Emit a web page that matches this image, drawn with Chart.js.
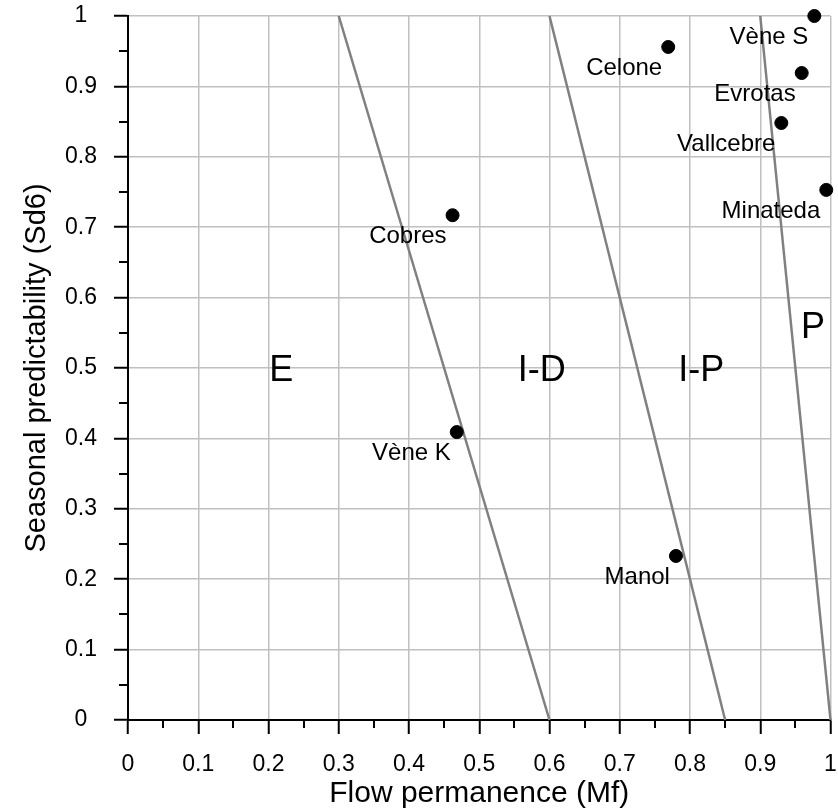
<!DOCTYPE html>
<html>
<head>
<meta charset="utf-8">
<script src="https://cdn.jsdelivr.net/npm/chart.js@4"></script>
<style>
html,body{margin:0;padding:0;background:#fff;}
#wrap{width:838px;height:812px;}
</style>
</head>
<body>
<div id="wrap"><canvas id="c" width="838" height="812"></canvas></div>
<script>
// ---- data ----
const sites = ["Vène S", "Celone", "Evrotas", "Vallcebre", "Minateda", "Cobres", "Vène K", "Manol"];
const flowPermanence = [0.977, 0.769, 0.959, 0.930, 0.994, 0.462, 0.468, 0.780];
const seasonalPredictability = [1.0, 0.956, 0.919, 0.848, 0.753, 0.717, 0.409, 0.233];

const boundaryTopX = [0.3, 0.6, 0.9];     // at Sd6 = 1
const boundaryBottomX = [0.6, 0.85, 1.0]; // at Sd6 = 0

const regionNames = ["E", "I-D", "I-P", "P"];
const regionX = [0.218, 0.589, 0.816, 0.975];
const regionY = [0.5, 0.5, 0.5, 0.561];

const tickValues = [0, 0.1, 0.2, 0.3, 0.4, 0.5, 0.6, 0.7, 0.8, 0.9, 1];
const tickLabels = ["0", "0.1", "0.2", "0.3", "0.4", "0.5", "0.6", "0.7", "0.8", "0.9", "1"];
const minorTicks = [0.05, 0.15, 0.25, 0.35, 0.45, 0.55, 0.65, 0.75, 0.85, 0.95];

const FONT = "'Liberation Sans', Arial, sans-serif";

const boundaryDatasets = boundaryTopX.map((tx, i) => ({
  type: 'line',
  data: [{x: tx, y: 1}, {x: boundaryBottomX[i], y: 0}],
  borderColor: '#808080',
  borderWidth: 2.5,
  pointRadius: 0,
  fill: false,
  clip: false,
  order: 2
}));

const pointsDataset = {
  type: 'scatter',
  data: flowPermanence.map((x, i) => ({x: x, y: seasonalPredictability[i]})),
  backgroundColor: '#000',
  borderColor: '#000',
  pointRadius: 6.5,
  pointHoverRadius: 6.5,
  clip: false,
  order: 1
};

function labelFor(v) {
  const idx = tickValues.findIndex(t => Math.abs(t - v) < 1e-6);
  return idx >= 0 ? tickLabels[idx] : '';
}

const annotatePlugin = {
  id: 'annotate',
  afterDraw(chart) {
    const ctx = chart.ctx;
    const xs = chart.scales.x, ys = chart.scales.y;
    ctx.save();
    // minor ticks
    ctx.strokeStyle = '#000';
    ctx.lineWidth = 2;
    ctx.beginPath();
    minorTicks.forEach(v => {
      const px = Math.round(xs.getPixelForValue(v));
      ctx.moveTo(px, ys.bottom);
      ctx.lineTo(px, ys.bottom + 8);
      const py = Math.round(ys.getPixelForValue(v));
      ctx.moveTo(xs.left, py);
      ctx.lineTo(xs.left - 9, py);
    });
    ctx.stroke();
    // point labels
    ctx.fillStyle = '#000';
    ctx.font = '24px ' + FONT;
    ctx.textAlign = 'right';
    ctx.textBaseline = 'alphabetic';
    sites.forEach((s, i) => {
      const px = xs.getPixelForValue(flowPermanence[i]);
      const py = ys.getPixelForValue(seasonalPredictability[i]);
      ctx.fillText(s, px - 6, py + 28);
    });
    // region labels
    ctx.font = '36px ' + FONT;
    ctx.textAlign = 'center';
    regionNames.forEach((s, i) => {
      const px = xs.getPixelForValue(regionX[i]);
      const py = ys.getPixelForValue(regionY[i]);
      ctx.fillText(s, px, py + 36 * 0.358);
    });
    ctx.restore();
  }
};

function axisCommon(titleText, titleSize, titlePad) {
  return {
    type: 'linear',
    min: 0,
    max: 1,
    ticks: {
      stepSize: 0.1,
      color: '#000',
      font: {family: FONT, size: 23},
      padding: 17,
      autoSkip: false,
      maxRotation: 0,
      callback: (v) => labelFor(v)
    },
    grid: {
      color: '#c0c0c0',
      lineWidth: 1.5,
      tickLength: 14,
      tickColor: '#000',
      tickWidth: 2,
      drawTicks: true
    },
    border: {display: true, color: '#000', width: 2},
    title: {
      display: true,
      text: titleText,
      color: '#000',
      font: {family: FONT, size: titleSize},
      padding: titlePad
    }
  };
}

const xAxis = axisCommon('Flow permanence (Mf)', 30, {top: 0, bottom: 0});
xAxis.afterFit = (s) => { s.height = 92; s.paddingLeft = 0; s.paddingRight = 0; };
const yAxis = axisCommon('Seasonal predictability (Sd6)', 29, {top: 20, bottom: 0});
yAxis.ticks.crossAlign = 'center';
yAxis.afterFit = (s) => { s.width = 128; s.paddingTop = 0; s.paddingBottom = 0; };

new Chart(document.getElementById('c'), {
  type: 'scatter',
  data: {datasets: [pointsDataset, ...boundaryDatasets]},
  options: {
    responsive: false,
    animation: false,
    devicePixelRatio: 1,
    layout: {padding: {top: 16, right: 5, left: 0, bottom: 0}},
    plugins: {legend: {display: false}, tooltip: {enabled: false}},
    scales: {x: xAxis, y: yAxis}
  },
  plugins: [annotatePlugin]
});
</script>
</body>
</html>
